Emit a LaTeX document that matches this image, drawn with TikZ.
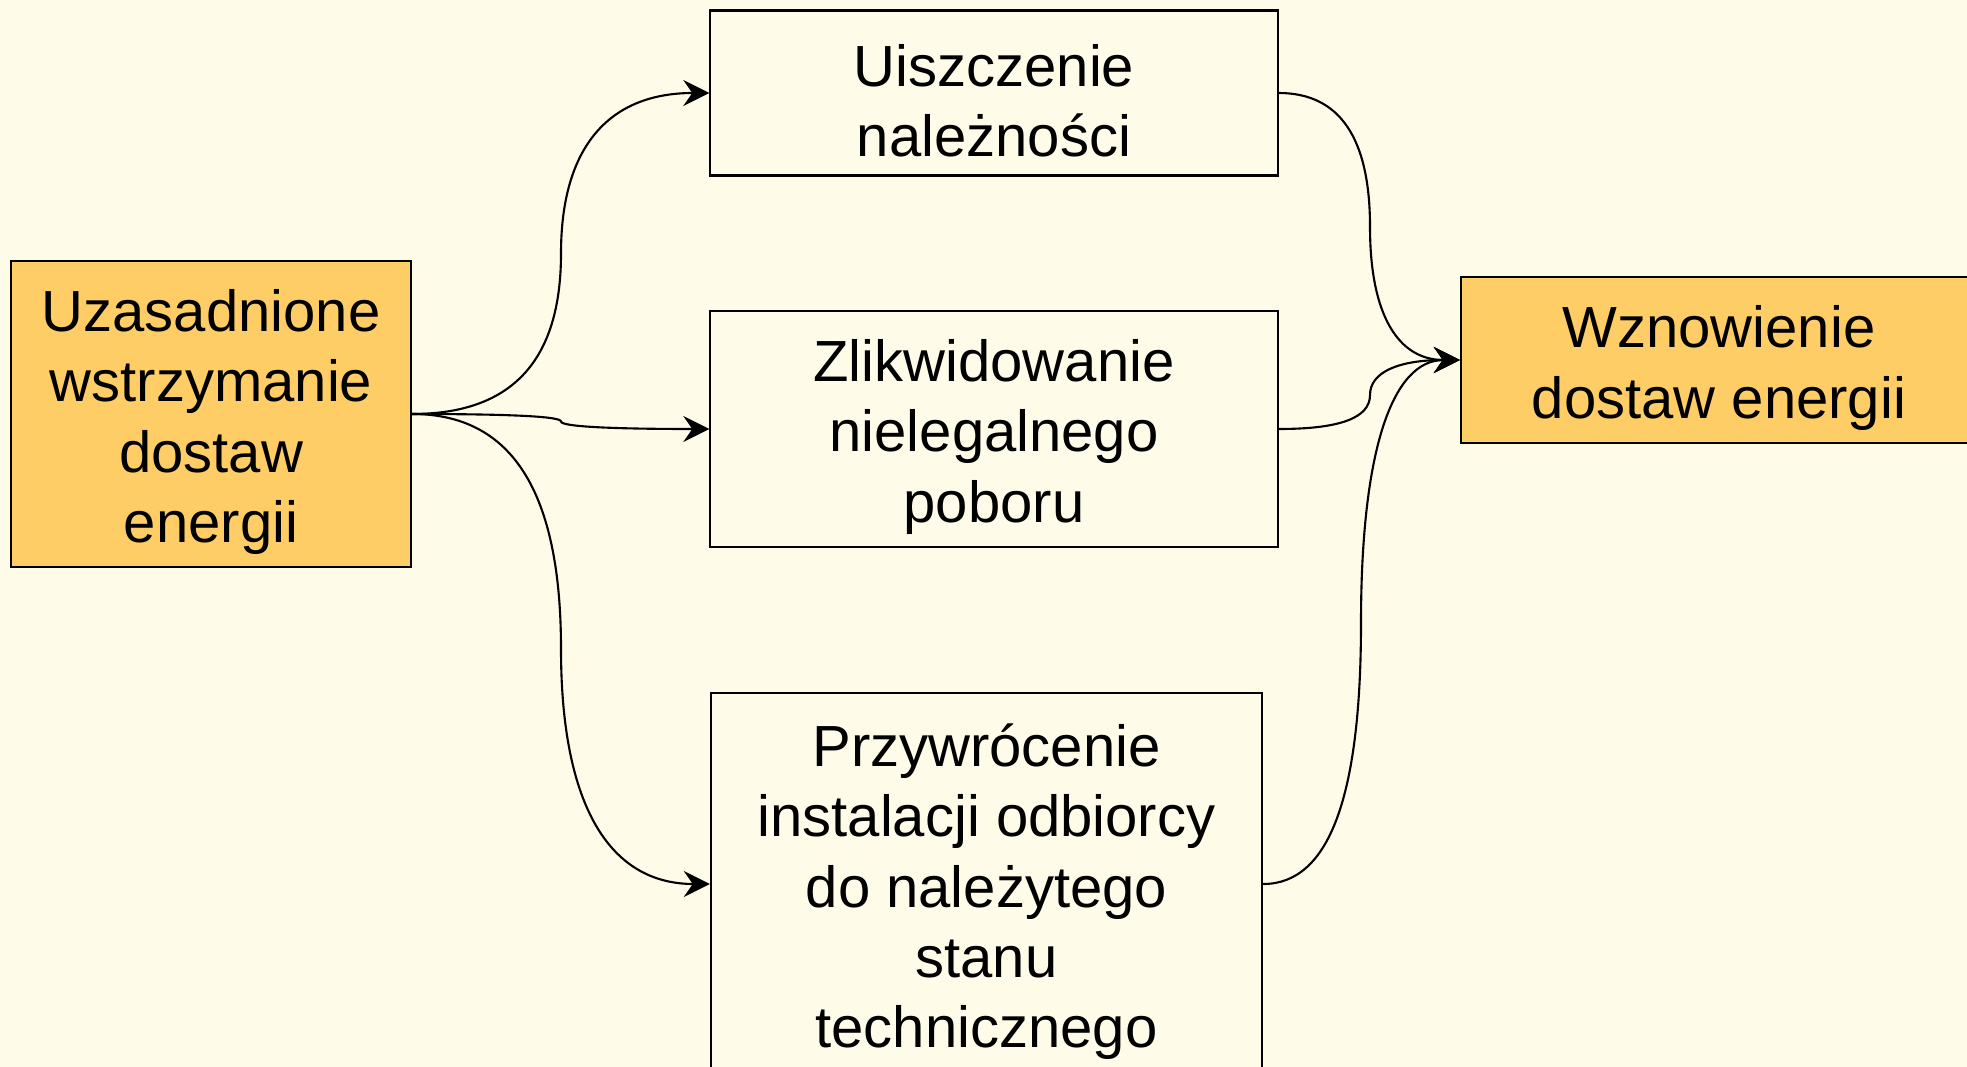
\documentclass[tikz,border=0pt]{standalone}
\usepackage{fontspec}
\setmainfont{Liberation Sans}
\usepackage{xcolor}
\usepackage{tikz}
\usetikzlibrary{arrows.meta, calc}
\definecolor{mycream}{RGB}{254,251,233}
\definecolor{myorange}{RGB}{255,205,102}
\definecolor{mydark}{RGB}{0,0,0}
\newcommand{\topstrut}{\rule{0pt}{0.58cm}}
\tikzset{
  box/.style={rectangle, draw=mydark, fill=mycream, align=center,
    line width=0.6pt, inner sep=0pt},
  orangebox/.style={box, fill=myorange},
  arrow/.style={-{Stealth[length=2.6mm, width=2.6mm, inset=0.9mm]}, line width=0.6pt, color=mydark}
}
\begin{document}
\begin{tikzpicture}[x=0.01cm, y=-0.01cm, font=\fontsize{16.5}{20}\selectfont]
  % Background
  \clip (0,0) rectangle (1967,1067);
  \fill[mycream] (0,0) rectangle (1967,1067);

  % Start and end states (orange)
  \node[orangebox, minimum width=4cm, minimum height=3.06cm] (stop) at (211,414)
    {\topstrut Uzasadnione\\wstrzymanie\\dostaw\\energii};
  \node[orangebox, minimum width=5.16cm, minimum height=1.66cm] (resume) at (1719,360)
    {\topstrut Wznowienie\\dostaw energii};

  % Conditions
  \node[box, minimum width=5.67cm, minimum height=1.65cm] (pay) at (994,93)
    {\topstrut Uiszczenie\\należności};
  \node[box, minimum width=5.67cm, minimum height=2.35cm] (theft) at (994,429)
    {\topstrut Zlikwidowanie\\nielegalnego\\poboru};
  \node[box, minimum width=5.51cm, minimum height=3.82cm] (repair) at (986.5,884)
    {\topstrut Przywrócenie\\instalacji odbiorcy\\do należytego\\stanu\\technicznego};

  % Knees of the curved connectors
  \coordinate (kneeA) at (561,253.5);
  \coordinate (kneeB) at (561,421.5);
  \coordinate (kneeC) at (561,649);
  \coordinate (kneeD) at (1370,227);
  \coordinate (kneeE) at (1370,395);
  \coordinate (kneeF) at (1361,622.5);

  % Fan out from the stop box
  \draw[arrow] (stop.east) .. controls +(100,0) and +(0,107) .. (kneeA)
    .. controls +(0,-107) and +(-100,0) .. (pay.west);
  \draw[arrow] (stop.east) .. controls +(100,0) and +(0,-5) .. (kneeB)
    .. controls +(0,5) and +(-100,0) .. (theft.west);
  \draw[arrow] (stop.east) .. controls +(100,0) and +(0,-157) .. (kneeC)
    .. controls +(0,157) and +(-100,0) .. (repair.west);

  % Fan in to the resume box
  \draw[arrow] (pay.east) .. controls +(61,0) and +(0,-89) .. (kneeD)
    .. controls +(0,89) and +(-61,0) .. (resume.west);
  \draw[arrow] (theft.east) .. controls +(61,0) and +(0,23) .. (kneeE)
    .. controls +(0,-23) and +(-61,0) .. (resume.west);
  \draw[arrow] (repair.east) .. controls +(66,0) and +(0,174) .. (kneeF)
    .. controls +(0,-174) and +(-67,0) .. (resume.west);
\end{tikzpicture}
\end{document}
